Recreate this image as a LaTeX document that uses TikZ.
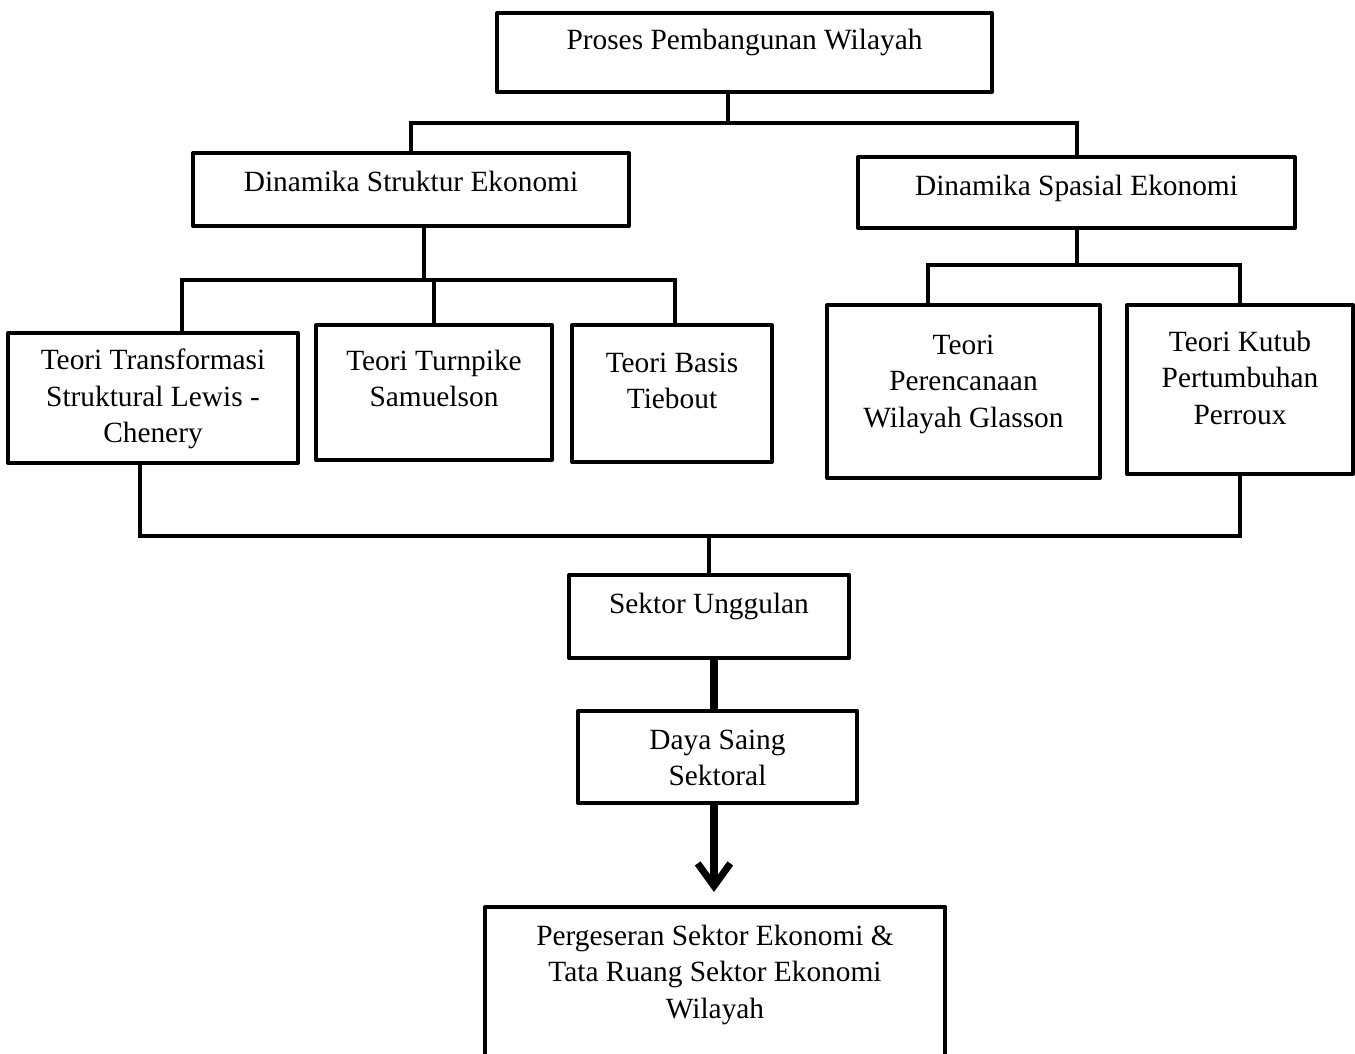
\documentclass[tikz,border=0pt]{standalone}
\usepackage{fontspec}
\setmainfont{Liberation Serif}
\usetikzlibrary{arrows.meta}

\begin{document}
\begin{tikzpicture}[x=0.014cm, y=-0.014cm,
    box/.style={draw, line width=1.6pt, line join=round, inner sep=0pt},
    wh/.style 2 args={minimum width=#1*0.014cm, minimum height=#2*0.014cm},
    txt/.style={align=center, font=\fontsize{11.7}{14.5}\selectfont, inner sep=0pt},
    con/.style={line width=1.6pt},
    fat/.style={line width=2.8pt}]
\useasboundingbox (0,0) rectangle (1355,1053);
% boxes
\node[box, wh={495}{79}, label={[txt, yshift=4pt]center:{\strut Proses Pembangunan Wilayah}}] (proses) at (744.5,52.5) {};
\node[box, wh={436}{73}, label={[txt, yshift=2pt]center:{\strut Dinamika Struktur Ekonomi}}] (struktur) at (411,189.5) {};
\node[box, wh={437}{71}, label={[txt, yshift=1.6pt]center:{\strut Dinamika Spasial Ekonomi}}] (spasial) at (1076.5,192.5) {};
\node[box, wh={290}{130}, label={[txt, yshift=-0.4pt]center:{\strut Teori Transformasi\\\strut Struktural Lewis -\\\strut Chenery}}] (lewis) at (153,398) {};
\node[box, wh={236}{135}, label={[txt, yshift=4.4pt]center:{\strut Teori Turnpike\\\strut Samuelson}}] (turnpike) at (434,392.5) {};
\node[box, wh={200}{137}, label={[txt, yshift=4.2pt]center:{\strut Teori Basis\\\strut Tiebout}}] (tiebout) at (672,393.5) {};
\node[box, wh={273}{173}, label={[txt, yshift=3.2pt]center:{\strut Teori\\\strut Perencanaan\\\strut Wilayah Glasson}}] (glasson) at (963.5,391.5) {};
\node[box, wh={226}{169}, label={[txt, yshift=3.6pt]center:{\strut Teori Kutub\\\strut Pertumbuhan\\\strut Perroux}}] (perroux) at (1240,389.5) {};
\node[box, wh={280}{83}, label={[txt, yshift=4pt]center:{\strut Sektor Unggulan}}] (unggulan) at (709,616.5) {};
\node[box, wh={279}{92}, label={[txt, yshift=-1.4pt]center:{\strut Daya Saing\\\strut Sektoral}}] (dayasaing) at (717.5,757) {};
\node[box, wh={460}{150}, label={[txt, yshift=3pt]center:{\strut Pergeseran Sektor Ekonomi \&\\\strut Tata Ruang Sektor Ekonomi\\\strut Wilayah}}] (pergeseran) at (715,982) {};

% tree lines
\coordinate (b1) at (728,123);
\draw[con] (proses.south -| b1) -- (b1);
\draw[con] (struktur.north) |- (b1) -| (spasial.north);

\coordinate (b2) at (424,280);
\coordinate (b2l) at (182,280);
\coordinate (b2r) at (675,280);
\draw[con] (struktur.south -| b2) -- (b2);
\draw[con] (lewis.north -| b2l) -- (b2l) -- (b2r) -- (tiebout.north -| b2r);
\draw[con] (turnpike.north) -- (turnpike.north |- b2);

\coordinate (b3) at (928,265);
\draw[con] (spasial.south) -- (spasial.south |- b3);
\draw[con] (glasson.north -| b3) -- (b3) -| (perroux.north);

\coordinate (b4) at (140,536);
\draw[con] (lewis.south -| b4) -- (b4) -| (perroux.south);
\draw[con] (unggulan.north) -- (unggulan.north |- b4);

% bottom chain
\coordinate (tip) at (714,892);
\draw[fat] (unggulan.south -| tip) -- (dayasaing.north -| tip);
\draw[fat, -{Straight Barb[length=9pt, width=13pt]}] (dayasaing.south -| tip) -- (tip);
\end{tikzpicture}
\end{document}
